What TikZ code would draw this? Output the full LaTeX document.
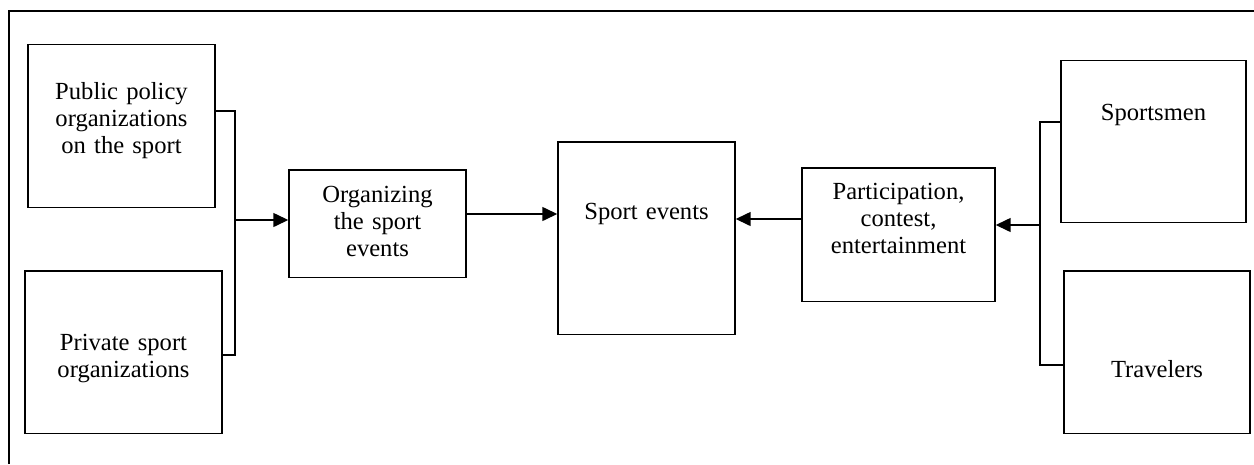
\documentclass[tikz,border=0pt]{standalone}
\usepackage{fontspec}
\setmainfont{Liberation Serif}
\usepackage{tikz}
\usetikzlibrary{calc,arrows.meta}
\newcommand{\boxfont}{\fontsize{14pt}{15.4pt}\selectfont}
\tikzset{
    block/.style = {draw, rectangle, line width=0.85pt,
        inner sep=0pt, anchor=north, align=center, font=\boxfont},
    link/.style = {draw, line width=0.85pt},
    arrow/.style = {draw, line width=0.85pt, -{Triangle[length=0.3cm,width=0.28cm]}},
    frame/.style = {draw, line width=0.65pt}
}

\begin{document}
\begin{tikzpicture}[x=0.02cm, y=-0.02cm]
    \useasboundingbox (0,0) rectangle (1254,464);
    \draw [frame] (9,464) |- (1254,11);
    % left side
    \node [block, text width=3.74cm, text height=1.10cm, text depth=2.16cm] (pub) at (121.5,44) {Public policy\\organizations\\on the sport};
    \node [block, text width=3.94cm, text height=1.60cm, text depth=1.66cm] (priv) at (123.5,270) {Private sport\\organizations};
    \node [block, text width=3.54cm, text height=0.66cm, text depth=1.50cm] (org) at (377.5,169) {Organizing\\the sport\\events};
    % middle
    \node [block, text width=3.54cm, text height=1.56cm, text depth=2.30cm] (sport) at (646.5,141) {Sport events};
    \node [block, text width=3.86cm, text height=0.64cm, text depth=2.04cm] (part) at (898.5,167) {Participation,\\contest,\\entertainment};
    % right side
    \node [block, text width=3.70cm, text height=1.20cm, text depth=2.04cm] (sman) at (1153.5,60) {Sportsmen};
    \node [block, text width=3.72cm, text height=2.14cm, text depth=1.12cm] (trav) at (1157,270) {Travelers};
    \coordinate (ljoin) at (235,220);
    \coordinate (rjoin) at (1040,225);
    \draw [link] ($(pub.north east)+(0,67)$) -| (ljoin) |- ($(priv.north east)+(0,85)$);
    \draw [arrow] (ljoin) -- (ljoin -| org.west);
    \draw [arrow] ($(org.north east)+(0,45)$) coordinate (o1) -- (o1 -| sport.west);
    \draw [arrow] ($(part.north west)+(0,52)$) coordinate (p1) -- (p1 -| sport.east);
    \draw [link] ($(sman.north west)+(0,62)$) -| (rjoin) |- ($(trav.north west)+(0,95)$);
    \draw [arrow] (rjoin) -- (rjoin -| part.east);
\end{tikzpicture}
\end{document}
